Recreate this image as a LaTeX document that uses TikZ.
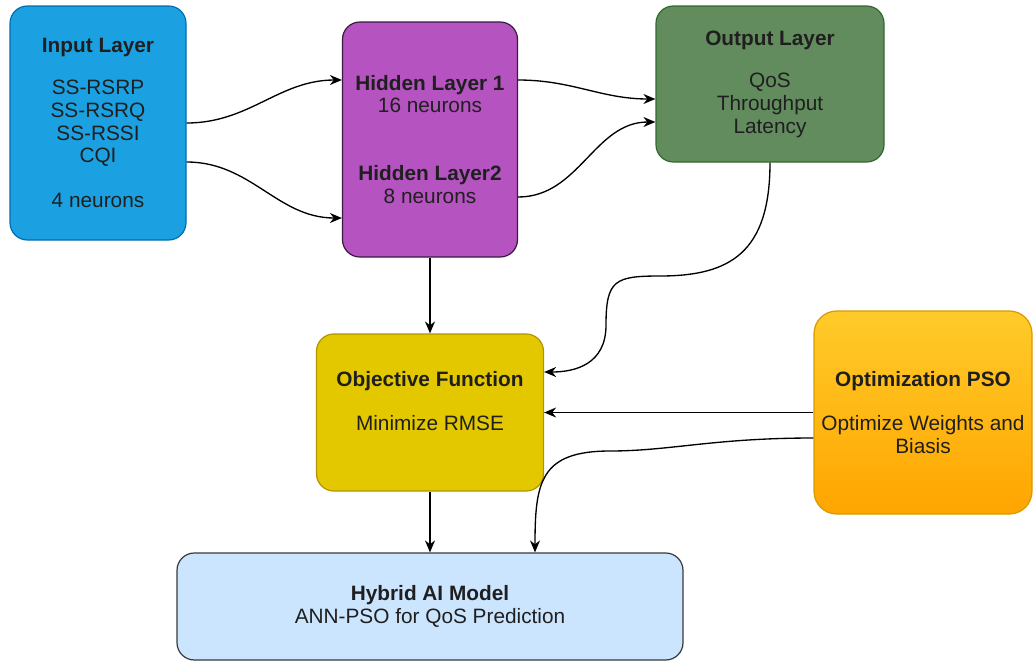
\documentclass[tikz,border=0pt]{standalone}
\usepackage{fontspec}
\setmainfont{Liberation Sans}
\usetikzlibrary{arrows.meta,calc}

\definecolor{inpfill}{HTML}{1BA1E2}
\definecolor{inpline}{HTML}{006EAF}
\definecolor{hidfill}{HTML}{B553C1}
\definecolor{hidline}{HTML}{3A1A40}
\definecolor{outfill}{HTML}{628B5E}
\definecolor{outline}{HTML}{2F6A2B}
\definecolor{objfill}{HTML}{E3C800}
\definecolor{objline}{HTML}{B09500}
\definecolor{psotop}{HTML}{FFCB2A}
\definecolor{psobot}{HTML}{FFA500}
\definecolor{psoline}{HTML}{D79B00}
\definecolor{hybfill}{HTML}{CCE5FF}
\definecolor{hybline}{HTML}{36393D}

\begin{document}
\begin{tikzpicture}[x=0.75pt,y=-0.75pt,
    layerbox/.style={draw,line width=0.9pt,rounded corners=13pt,align=center,
        text=black!88,font=\fontsize{15.6}{17}\selectfont},
    link/.style={-{Stealth[length=9pt,width=7.5pt]},line width=1pt}]
    \useasboundingbox (0,0) rectangle (1035,661);
    % layers of the network
    \node[layerbox,fill=inpfill,draw=inpline,minimum width=132pt,minimum height=175.5pt] (inp) at (98,123)
        {\textbf{Input Layer}\\[14.5pt]SS-RSRP\\SS-RSRQ\\SS-RSSI\\CQI\\[16.5pt]4 neurons};
    \node[layerbox,fill=hidfill,draw=hidline,minimum width=131.25pt,minimum height=176.25pt] (hid) at (430,139.5)
        {\textbf{Hidden Layer 1}\\16 neurons\\[34pt]\textbf{Hidden Layer2}\\8 neurons};
    \node[layerbox,fill=outfill,draw=outline,minimum width=171pt,minimum height=117pt] (outp) at (770,84)
        {\textbf{Output Layer}\\[15pt]QoS\\Throughput\\Latency};
    % training part
    \node[layerbox,fill=objfill,draw=objline,minimum width=170.25pt,minimum height=117.75pt] (obj) at (430,412.5)
        {\textbf{Objective Function}\\[16pt]Minimize RMSE\\\mbox{}};
    \node[layerbox,top color=psotop,bottom color=psobot,draw=psoline,rounded corners=17pt,
        minimum width=163.5pt,minimum height=152.25pt] (pso) at (923,412.5)
        {\textbf{Optimization PSO}\\[16pt]Optimize Weights and\\Biasis};
    \node[layerbox,fill=hybfill,draw=hybline,minimum width=379.5pt,minimum height=80.25pt] (hyb) at (430,606.5)
        {\textbf{Hybrid AI Model}\\ANN-PSO for QoS Prediction};

    \draw[link] (inp.east) to[out=0,in=180] ($(hid.west)+(0,-59.5)$);
    \draw[link] ($(inp.east)+(0,39)$) to[out=0,in=180] ($(hid.west)+(0,78.5)$);
    \draw[link] ($(hid.east)+(0,-59.5)$) to[out=0,in=180] ($(outp.west)+(0,15)$);
    \draw[link] ($(hid.east)+(0,57.5)$) to[out=0,in=180] ($(outp.west)+(0,38)$);
    \draw[link] (hid.south) -- (obj.north);
    \draw[link] (outp.south) .. controls +(0,90) and +(70,0) .. (660,276)
        .. controls +(-45,0) and +(0,-45) .. (606,325)
        .. controls +(0,40) and +(30,0) .. ($(obj.east)+(0,-40.5)$);
    \draw[link] (pso.west) -- (obj.east);
    \draw[link] ($(pso.west)+(0,25.5)$) .. controls +(-100,0) and +(60,0) .. (610,451)
        .. controls +(-70,0) and +(0,-70) .. ($(hyb.north)+(105,0)$);
    \draw[link] (obj.south) -- (hyb.north);
\end{tikzpicture}
\end{document}
